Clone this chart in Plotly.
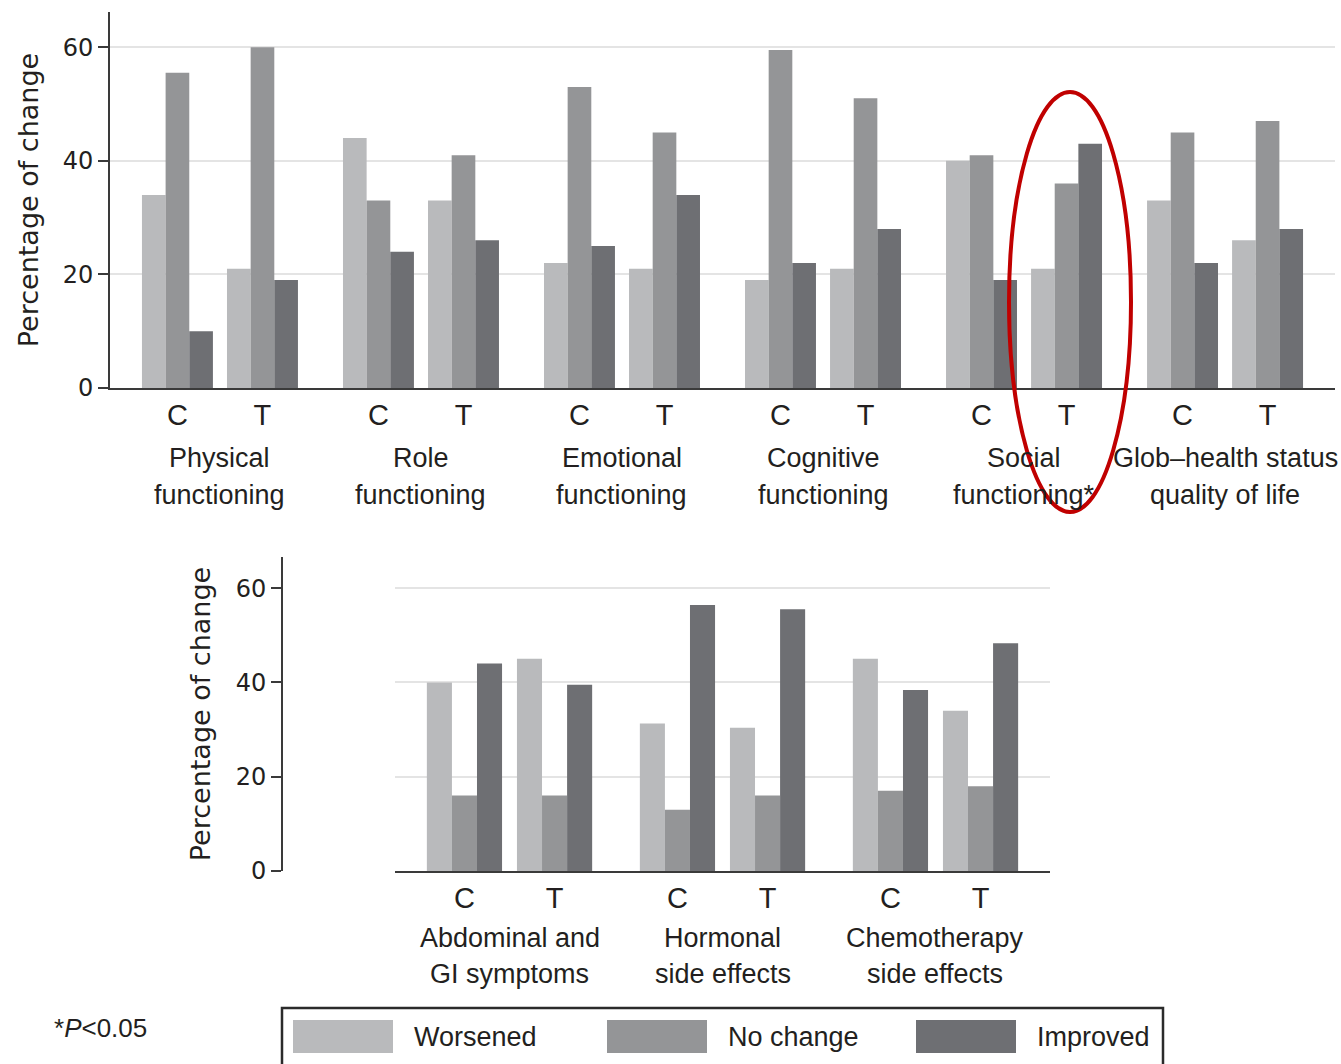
import plotly.graph_objects as go

# ---- data -------------------------------------------------------------
arms = ["C", "T"]

top_groups = [
    "Physical<br>functioning",
    "Role<br>functioning",
    "Emotional<br>functioning",
    "Cognitive<br>functioning",
    "Social<br>functioning*",
    "Glob\u2013health status<br>quality of life",
]
# values ordered group by group: C then T
top_worsened = [34, 21, 44, 33, 22, 21, 19, 21, 40, 21, 33, 26]
top_no_change = [55.5, 60, 33, 41, 53, 45, 59.5, 51, 41, 36, 45, 47]
top_improved = [10, 19, 24, 26, 25, 34, 22, 28, 19, 43, 22, 28]

bottom_groups = [
    "Abdominal and<br>GI symptoms",
    "Hormonal<br>side effects",
    "Chemotherapy<br>side effects",
]
bottom_worsened = [40, 45, 31.3, 30.4, 45, 34]
bottom_no_change = [16, 16, 13, 16, 17, 18]
bottom_improved = [44, 39.5, 56.4, 55.5, 38.4, 48.3]

series_names = ["Worsened", "No change", "Improved"]
series_colors = ["#b9babc", "#949597", "#6e6f73"]

y_ticks = [0, 20, 40, 60]
y_title = "Percentage of change"
footnote = "*<i>P</i>&lt;0.05"

# ---- styling ------------------------------------------------------------
W, H = 1341, 1064
H_EFF = 1050              # vertical extent the paper coordinates are laid out against
TXT = "#231f20"
SANS = "Liberation Sans, Arial, Helvetica, sans-serif"
WIDE = "DejaVu Sans, Verdana, sans-serif"
ARM_OFF = 0.2115          # distance of C / T cluster centre from group centre
CLUSTER_W = 0.353         # width of one C or T cluster in axis units
BAR_W = CLUSTER_W / 3


def px_x(p):
    return p / W


def px_y(p):
    return 1 - p / H_EFF


def cluster_positions(n_groups):
    return [g + s * ARM_OFF for g in range(n_groups) for s in (-1, 1)]


fig = go.Figure()


def add_panel(xaxis, yaxis, groups, series):
    xs = cluster_positions(len(groups))
    for i, (name, color, vals) in enumerate(zip(series_names, series_colors, series)):
        fig.add_trace(go.Bar(
            x=xs, y=vals, name=name,
            xaxis=xaxis, yaxis=yaxis,
            width=BAR_W, offset=-CLUSTER_W / 2 + i * BAR_W,
            marker=dict(color=color, line=dict(width=0)),
            showlegend=False,
        ))
    return xs


top_x = add_panel("x", "y", top_groups, [top_worsened, top_no_change, top_improved])
bot_x = add_panel("x2", "y2", bottom_groups, [bottom_worsened, bottom_no_change, bottom_improved])

axis_common_x = dict(
    showline=True, linecolor="#3a3a3a", linewidth=2,
    showgrid=False, zeroline=False, ticks="",
    tickfont=dict(family=SANS, size=29, color=TXT),
    fixedrange=True,
)
axis_common_y = dict(
    tickvals=y_ticks,
    showline=True, linecolor="#3a3a3a", linewidth=2,
    ticks="outside", ticklen=10, tickwidth=2, tickcolor="#3a3a3a",
    showgrid=True, gridcolor="#e4e4e4", gridwidth=2, zeroline=False,
    tickfont=dict(family=WIDE, size=24, color=TXT),
    title=dict(text=y_title, font=dict(family=WIDE, size=27, color=TXT), standoff=16),
)

fig.update_layout(
    width=W, height=H,
    margin=dict(l=0, r=0, t=0, b=0),
    paper_bgcolor="white", plot_bgcolor="white",
    barmode="overlay", showlegend=False,
    xaxis=dict(axis_common_x, domain=[px_x(110), px_x(1335)],
               range=[-0.547, len(top_groups) - 1 + 0.547],
               tickvals=top_x, ticktext=arms * len(top_groups), anchor="y"),
    yaxis=dict(axis_common_y, domain=[px_y(388), px_y(12)], range=[0, 66.2], anchor="x"),
    xaxis2=dict(axis_common_x, domain=[px_x(395), px_x(1050)],
                range=[-0.5376, len(bottom_groups) - 1 + 0.5376],
                tickvals=bot_x, ticktext=arms * len(bottom_groups), anchor="y2"),
    yaxis2=dict(axis_common_y, domain=[px_y(871), px_y(557)], range=[0, 66.6],
                anchor="free", position=px_x(282)),
)

annotations = []


def group_labels(groups, xref, y_first, line_gap):
    for g, label in enumerate(groups):
        for k, line in enumerate(label.split("<br>")):
            annotations.append(dict(
                x=g, xref=xref, y=px_y(y_first + k * line_gap), yref="paper",
                text=line, showarrow=False, xanchor="center", yanchor="middle",
                font=dict(family=SANS, size=27, color=TXT),
            ))


group_labels(top_groups, "x", 458, 37)
group_labels(bottom_groups, "x2", 938, 36)

# footnote
annotations.append(dict(
    x=px_x(52), y=px_y(1028), xref="paper", yref="paper", text=footnote,
    showarrow=False, xanchor="left", yanchor="middle",
    font=dict(family=SANS, size=26, color=TXT),
))

shapes = []
# legend frame (runs off the bottom edge of the page)
shapes.append(dict(type="rect", xref="paper", yref="paper",
                   x0=px_x(282), x1=px_x(1163), y0=px_y(1100), y1=px_y(1008),
                   line=dict(color="#2b2b2b", width=2.5), fillcolor="rgba(0,0,0,0)"))
legend_swatch_x = [293, 607, 916]
for name, color, sx in zip(series_names, series_colors, legend_swatch_x):
    shapes.append(dict(type="rect", xref="paper", yref="paper",
                       x0=px_x(sx), x1=px_x(sx + 100), y0=px_y(1053), y1=px_y(1020),
                       line=dict(width=0), fillcolor=color))
    annotations.append(dict(
        x=px_x(sx + 119), y=px_y(1037), xref="paper", yref="paper", text=name,
        showarrow=False, xanchor="left", yanchor="middle",
        font=dict(family=SANS, size=27, color=TXT),
    ))

# highlight around the significant social-functioning treatment arm
shapes.append(dict(type="circle", xref="paper", yref="paper",
                   x0=px_x(1009), x1=px_x(1131), y0=px_y(512), y1=px_y(92),
                   line=dict(color="#c00000", width=4), layer="above"))

fig.update_layout(annotations=annotations, shapes=shapes)
fig.write_html("out.html")
